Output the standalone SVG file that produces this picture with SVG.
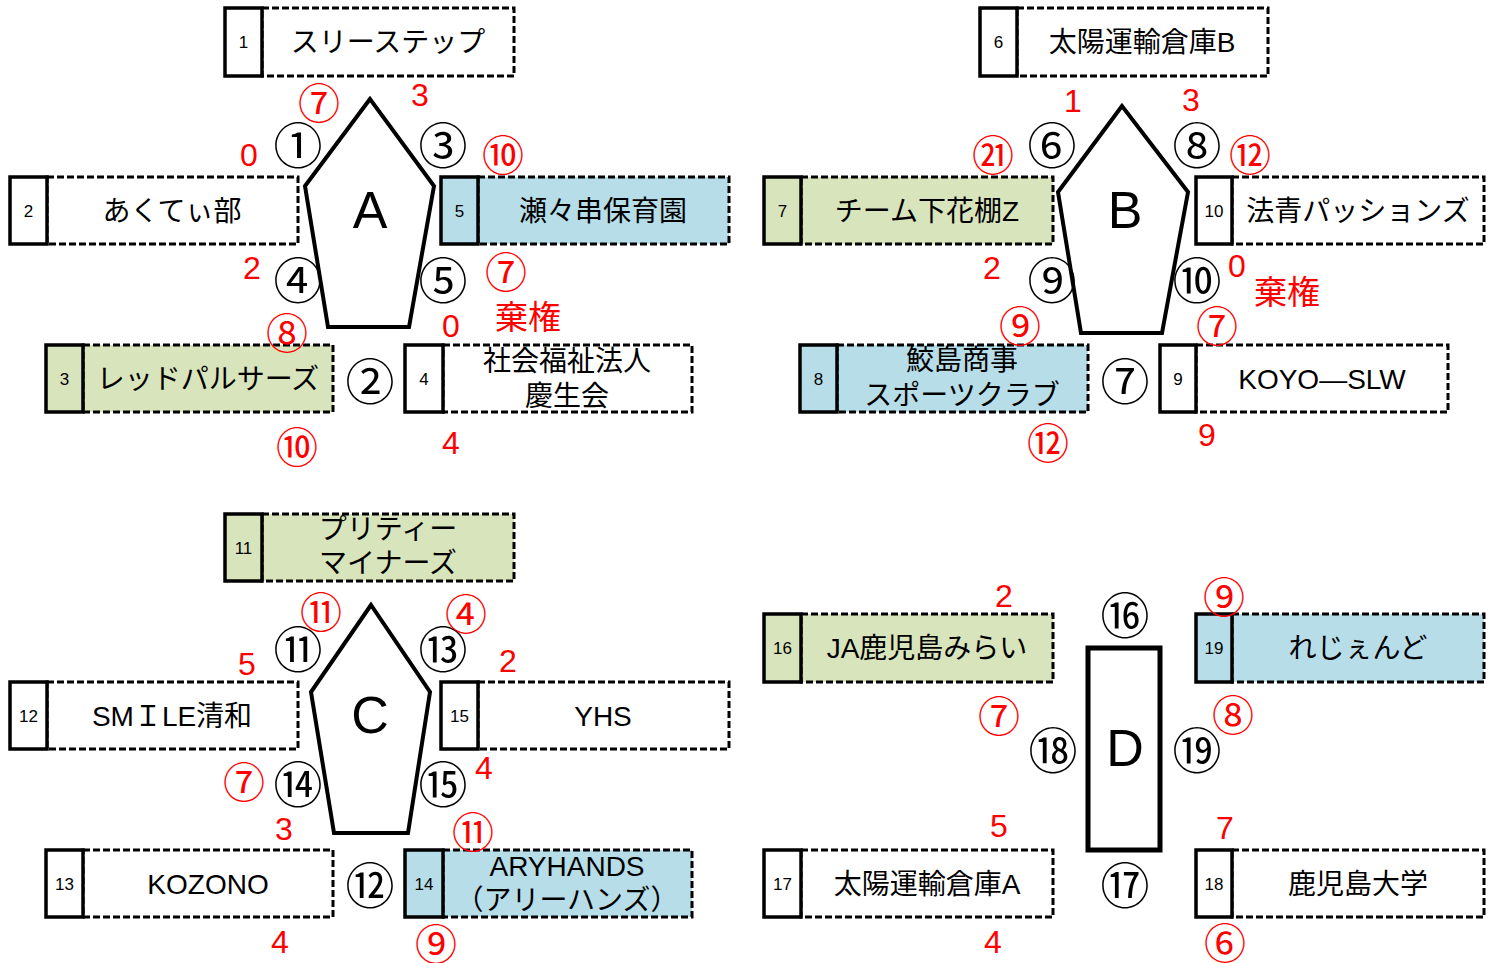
<svg xmlns="http://www.w3.org/2000/svg" width="1499" height="963" viewBox="0 0 1499 963">
<style>
text{font-family:"Liberation Sans","Noto Sans CJK JP",sans-serif;text-anchor:middle;dominant-baseline:central}
.num{fill:#fff;stroke:#000;stroke-width:3.5}
.main{fill:#fff;stroke:#000;stroke-width:3;stroke-dasharray:7 3}
.g{fill:#d8e4bc}.b{fill:#b7dde8}
.t{font-size:28px;fill:#000}
.n{font-size:17px;fill:#000}
.pool{fill:#fff;stroke:#000;stroke-width:4;stroke-linejoin:miter}
.L{font-size:52px;fill:#000}
.m{font-family:"Noto Sans CJK JP",sans-serif;font-size:49px;fill:#000}
.r{font-size:32px;fill:#f00}
.rc{font-family:"Noto Sans CJK JP",sans-serif;font-size:42px;fill:#f00}
.rk{font-family:"Noto Sans CJK JP",sans-serif;font-size:33px;fill:#f00}
</style>
<rect width="1499" height="963" fill="#fff"/>

<!-- Pool A -->
<g id="poolA">
<polygon class="pool" points="370,99 305,186 328,327 409,327 434,186"/>
<text class="L" x="370" y="210">A</text>
</g>
<g id="team1"><rect class="main" x="262" y="8" width="252" height="68"/><rect class="num" x="225" y="8" width="37" height="68"/><text class="n" x="243.5" y="42">1</text><text class="t" x="388" y="42">スリーステップ</text></g>
<g id="team2"><rect class="main" x="47" y="177" width="251" height="67"/><rect class="num" x="10" y="177" width="37" height="67"/><text class="n" x="28.5" y="211">2</text><text class="t" x="172" y="211">あくてぃ部</text></g>
<g id="team5"><rect class="main b" x="478" y="177" width="251" height="67"/><rect class="num b" x="441" y="177" width="37" height="67"/><text class="n" x="459.5" y="211">5</text><text class="t" x="603" y="211">瀬々串保育園</text></g>
<g id="team3"><rect class="main g" x="83" y="345" width="250" height="67"/><rect class="num g" x="46" y="345" width="37" height="67"/><text class="n" x="64.5" y="379">3</text><text class="t" x="208" y="379">レッドパルサーズ</text></g>
<g id="team4"><rect class="main" x="443" y="345" width="249" height="67"/><rect class="num" x="405" y="345" width="38" height="67"/><text class="n" x="424" y="379">4</text><text class="t" x="567" y="361">社会福祉法人</text><text class="t" x="567" y="396">慶生会</text></g>
<g id="matchesA">
<text class="m" x="298" y="142">①</text><text class="m" x="443" y="142">③</text>
<text class="m" x="298" y="277">④</text><text class="m" x="443" y="277">⑤</text>
<text class="m" x="370" y="378">②</text>
</g>
<g id="scoresA">
<text class="rc" x="319" y="100">⑦</text><text class="r" x="420" y="95">3</text>
<text class="r" x="249" y="155">0</text><text class="rc" x="503" y="152">⑩</text>
<text class="r" x="252" y="268">2</text><text class="rc" x="506" y="269">⑦</text>
<text class="rc" x="287" y="330">⑧</text><text class="r" x="451" y="326">0</text>
<text class="rk" x="528" y="315">棄権</text>
<text class="rc" x="297" y="444">⑩</text><text class="r" x="451" y="443">4</text>
</g>

<!-- Pool B -->
<g id="poolB">
<polygon class="pool" points="1122,106 1058,192 1081,333 1162,333 1188,192"/>
<text class="L" x="1125" y="210">B</text>
</g>
<g id="team6"><rect class="main" x="1017" y="8" width="251" height="68"/><rect class="num" x="980" y="8" width="37" height="68"/><text class="n" x="998.5" y="42">6</text><text class="t" x="1142" y="42">太陽運輸倉庫B</text></g>
<g id="team7"><rect class="main g" x="801" y="177" width="252" height="67"/><rect class="num g" x="764" y="177" width="37" height="67"/><text class="n" x="782.5" y="211">7</text><text class="t" x="927" y="211">チーム下花棚Z</text></g>
<g id="team10"><rect class="main" x="1232" y="177" width="252" height="67"/><rect class="num" x="1196" y="177" width="36" height="67"/><text class="n" x="1214" y="211">10</text><text class="t" x="1358" y="211">法青パッションズ</text></g>
<g id="team8"><rect class="main b" x="837" y="345" width="251" height="67"/><rect class="num b" x="800" y="345" width="37" height="67"/><text class="n" x="818.5" y="379">8</text><text class="t" x="962" y="360">鮫島商事</text><text class="t" x="962" y="395">スポーツクラブ</text></g>
<g id="team9"><rect class="main" x="1196" y="345" width="252" height="67"/><rect class="num" x="1160" y="345" width="36" height="67"/><text class="n" x="1178" y="379">9</text><text class="t" x="1322" y="379">KOYO—SLW</text></g>
<g id="matchesB">
<text class="m" x="1052" y="142">⑥</text><text class="m" x="1197" y="142">⑧</text>
<text class="m" x="1052" y="277">⑨</text><text class="m" x="1197" y="277">⑩</text>
<text class="m" x="1125" y="378">⑦</text>
</g>
<g id="scoresB">
<text class="r" x="1073" y="101">1</text><text class="r" x="1191" y="100">3</text>
<text class="rc" x="993" y="152">㉑</text><text class="rc" x="1250" y="152">⑫</text>
<text class="r" x="992" y="268">2</text><text class="r" x="1237" y="266">0</text>
<text class="rk" x="1287" y="290">棄権</text>
<text class="rc" x="1020" y="323">⑨</text><text class="rc" x="1217" y="323">⑦</text>
<text class="rc" x="1048" y="440">⑫</text><text class="r" x="1207" y="435">9</text>
</g>

<!-- Pool C -->
<g id="poolC">
<polygon class="pool" points="371,605 311,692 334,833 408,833 430,692"/>
<text class="L" x="370" y="715">C</text>
</g>
<g id="team11"><rect class="main g" x="262" y="514" width="252" height="67"/><rect class="num g" x="225" y="514" width="37" height="67"/><text class="n" x="243.5" y="548">11</text><text class="t" x="388" y="529">プリティー</text><text class="t" x="388" y="563">マイナーズ</text></g>
<g id="team12"><rect class="main" x="47" y="682" width="251" height="67"/><rect class="num" x="10" y="682" width="37" height="67"/><text class="n" x="28.5" y="716">12</text><text class="t" x="172" y="716">SMＩLE清和</text></g>
<g id="team15"><rect class="main" x="478" y="682" width="251" height="67"/><rect class="num" x="441" y="682" width="37" height="67"/><text class="n" x="459.5" y="716">15</text><text class="t" x="603" y="716">YHS</text></g>
<g id="team13"><rect class="main" x="83" y="850" width="250" height="67"/><rect class="num" x="46" y="850" width="37" height="67"/><text class="n" x="64.5" y="884">13</text><text class="t" x="208" y="884">KOZONO</text></g>
<g id="team14"><rect class="main b" x="443" y="850" width="249" height="67"/><rect class="num b" x="405" y="850" width="38" height="67"/><text class="n" x="424" y="884">14</text><text class="t" x="567" y="866">ARYHANDS</text><text class="t" x="567" y="900">（アリーハンズ）</text></g>
<g id="matchesC">
<text class="m" x="298" y="646">⑪</text><text class="m" x="443" y="646">⑬</text>
<text class="m" x="298" y="781">⑭</text><text class="m" x="443" y="781">⑮</text>
<text class="m" x="370" y="882">⑫</text>
</g>
<g id="scoresC">
<text class="rc" x="321" y="609">⑪</text><text class="rc" x="466" y="611">④</text>
<text class="r" x="247" y="664">5</text><text class="r" x="508" y="661">2</text>
<text class="rc" x="244" y="779">⑦</text><text class="r" x="484" y="768">4</text>
<text class="r" x="284" y="829">3</text><text class="rc" x="473" y="829">⑪</text>
<text class="r" x="280" y="942">4</text><text class="rc" x="436" y="941">⑨</text>
</g>

<!-- Pool D -->
<g id="poolD">
<rect x="1088" y="648" width="72" height="202" fill="#fff" stroke="#000" stroke-width="5"/>
<text class="L" x="1125" y="748">D</text>
</g>
<g id="team16"><rect class="main g" x="801" y="614" width="252" height="68"/><rect class="num g" x="764" y="614" width="37" height="68"/><text class="n" x="782.5" y="648">16</text><text class="t" x="927" y="648">JA鹿児島みらい</text></g>
<g id="team19"><rect class="main b" x="1232" y="614" width="252" height="68"/><rect class="num b" x="1196" y="614" width="36" height="68"/><text class="n" x="1214" y="648">19</text><text class="t" x="1358" y="648">れじぇんど</text></g>
<g id="team17"><rect class="main" x="801" y="850" width="252" height="67"/><rect class="num" x="764" y="850" width="37" height="67"/><text class="n" x="782.5" y="884">17</text><text class="t" x="927" y="884">太陽運輸倉庫A</text></g>
<g id="team18"><rect class="main" x="1232" y="850" width="252" height="67"/><rect class="num" x="1196" y="850" width="36" height="67"/><text class="n" x="1214" y="884">18</text><text class="t" x="1358" y="884">鹿児島大学</text></g>
<g id="matchesD">
<text class="m" x="1125" y="612">⑯</text><text class="m" x="1053" y="747">⑱</text>
<text class="m" x="1197" y="747">⑲</text><text class="m" x="1125" y="882">⑰</text>
</g>
<g id="scoresD">
<text class="r" x="1004" y="596">2</text><text class="rc" x="1224" y="594">⑨</text>
<text class="rc" x="999" y="713">⑦</text><text class="rc" x="1233" y="712">⑧</text>
<text class="r" x="999" y="826">5</text><text class="r" x="1225" y="828">7</text>
<text class="r" x="993" y="942">4</text><text class="rc" x="1225" y="940">⑥</text>
</g>
</svg>
